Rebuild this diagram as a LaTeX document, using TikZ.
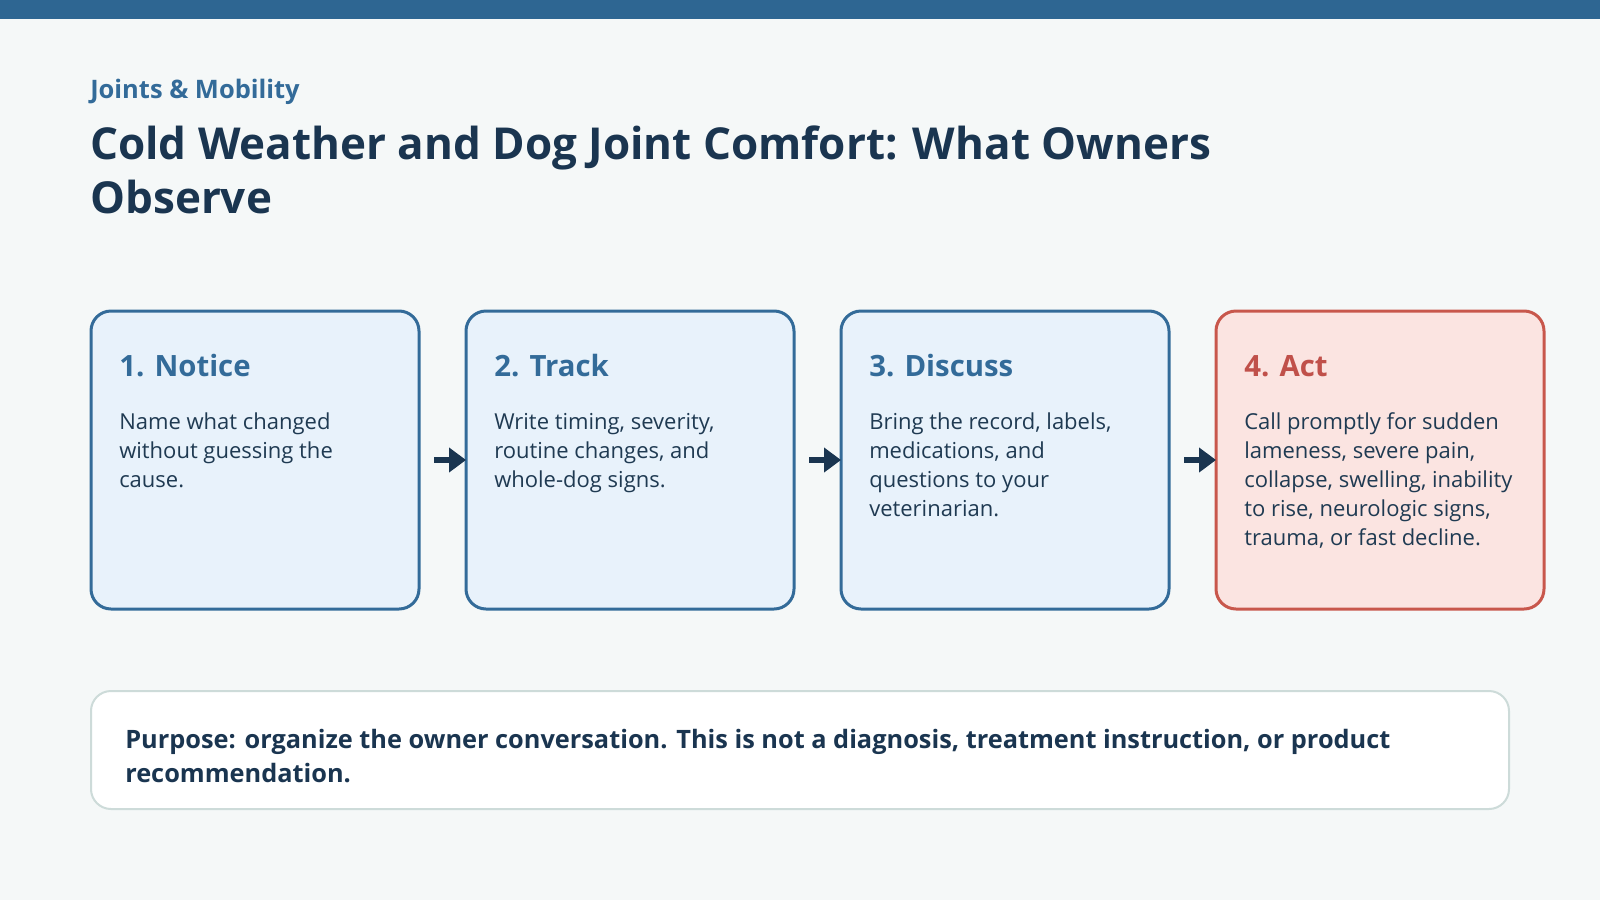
\documentclass[tikz,border=0pt]{standalone}
\usepackage{fontspec}
\setmainfont{Open Sans}
\usetikzlibrary{arrows.meta}
\definecolor{bgc}{HTML}{F5F8F8}
\definecolor{barc}{HTML}{2E6692}
\definecolor{navy}{HTML}{1A3550}
\definecolor{kick}{HTML}{336B99}
\definecolor{bluefill}{HTML}{E8F2FB}
\definecolor{blueline}{HTML}{336B99}
\definecolor{redfill}{HTML}{FBE4E1}
\definecolor{redline}{HTML}{C8574C}
\definecolor{redtext}{HTML}{C0504A}
\definecolor{bodyc}{HTML}{1F3A52}
\definecolor{footline}{HTML}{CDDBD9}
\tikzset{
  stepbox/.style={draw=blueline, fill=bluefill, line width=2.25pt, rounded corners=15pt,
    minimum width=246pt, minimum height=223.5pt, outer sep=0pt, inner sep=0pt},
  actbox/.style={stepbox, draw=redline, fill=redfill},
  heading/.style={anchor=base west, inner sep=0pt, text=kick, font={\fontsize{22}{26}\selectfont\bfseries}},
  bodytext/.style={anchor=base west, inner sep=0pt, text=bodyc, align=left, font={\fontsize{16.5}{21.75}\selectfont}},
  flowarrow/.style={draw=navy, line width=4pt, -{Triangle[length=12.75pt, width=18pt]}, shorten <=11.25pt},
}
\begin{document}
\begin{tikzpicture}[x=0.75pt, y=-0.75pt]
\useasboundingbox (0,0) rectangle (1600,900);
\fill[bgc] (0,0) rectangle (1600,900);
\fill[barc] (0,0) rectangle (1600,18.5);

\node[anchor=base west, inner sep=0pt, text=kick, font={\fontsize{19.1}{22}\selectfont\bfseries}] (kicker) at (90,98) {Joints \& Mobility};
\node[anchor=base west, inner sep=0pt, text=navy, align=left, font={\fontsize{33}{40}\selectfont\bfseries}] (title) at (90,213) {Cold Weather and Dog Joint Comfort: What Owners\\Observe};

\node[stepbox] (b1) at (255,460) {};
\node[stepbox] (b2) at (630,460) {};
\node[stepbox] (b3) at (1005,460) {};
\node[actbox] (b4) at (1380,460) {};

\node[heading] (h1) at (119,376) {1. Notice};
\node[heading] (h2) at (494,376) {2. Track};
\node[heading] (h3) at (869,376) {3. Discuss};
\node[heading, text=redtext] (h4) at (1244,376) {4. Act};

\node[bodytext] (t1) at (119,487) {Name what changed\\without guessing the\\cause.};
\node[bodytext] (t2) at (494,487) {Write timing, severity,\\routine changes, and\\whole-dog signs.};
\node[bodytext] (t3) at (869,516) {Bring the record, labels,\\medications, and\\questions to your\\veterinarian.};
\node[bodytext] (t4) at (1244,545) {Call promptly for sudden\\lameness, severe pain,\\collapse, swelling, inability\\to rise, neurologic signs,\\trauma, or fast decline.};

\draw[flowarrow] (b1.east) -- (b2.west);
\draw[flowarrow] (b2.east) -- (b3.west);
\draw[flowarrow] (b3.east) -- (b4.west);

\node[draw=footline, fill=white, line width=1.5pt, rounded corners=15pt, minimum width=1063.5pt, minimum height=88.5pt, inner sep=0pt] (foot) at (800,750) {};
\node[anchor=base west, inner sep=0pt, text=navy, align=left, font={\fontsize{19}{25.2}\selectfont\bfseries}] (purpose) at (125,782) {Purpose: organize the owner conversation. This is not a diagnosis, treatment instruction, or product\\recommendation.};
\end{tikzpicture}
\end{document}
